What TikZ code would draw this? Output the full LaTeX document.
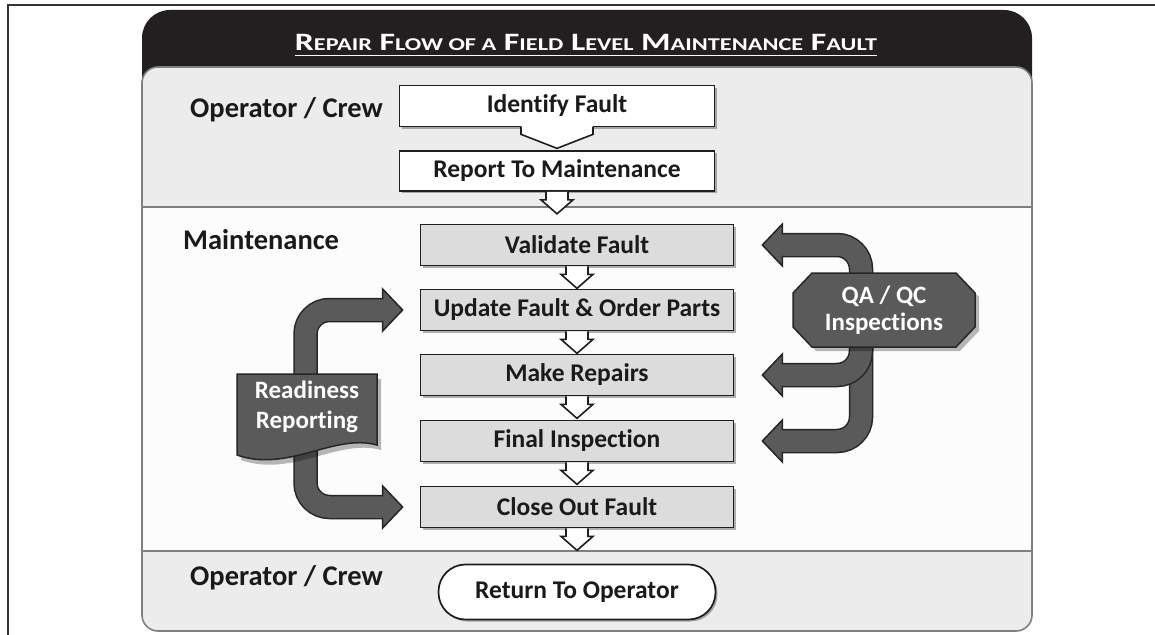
\documentclass[tikz,border=0pt]{standalone}
\usepackage{fontspec}
\setmainfont{Carlito}[Ligatures=NoCommon]
\usetikzlibrary{calc,shadows}
\definecolor{hdr}{HTML}{231F20}
\definecolor{secg}{HTML}{ECECEC}
\definecolor{secw}{HTML}{FCFCFC}
\definecolor{pan}{HTML}{7F7F7F}
\definecolor{boxg}{HTML}{DCDCDC}
\definecolor{boxline}{HTML}{1E1E1E}
\definecolor{dk}{HTML}{5A5A5A}
\definecolor{dkline}{HTML}{262626}
\definecolor{lbl}{HTML}{1A1A1A}
\newcommand\SCx[1]{{\fontsize{18}{22}\selectfont #1}}
\newcommand\chev[2]{%
  \filldraw[chevline, fill=white] let \p1=(#1.south), \p2=(#2.north) in
  (\x1-11pt,\y1) -- (\x1-11pt,\y1-8pt) -- (\x1-16pt,\y1-8pt) -- (\x1,\y1-22pt)
  -- (\x1+16pt,\y1-8pt) -- (\x1+11pt,\y1-8pt) -- (\x1+11pt,\y1);}
\newcommand\headR[1]{%
  \filldraw[fill=dk, draw=dkline, line width=1.5pt, line join=miter] let \p1=(#1) in
  (\x1-20pt,\y1+10.6pt) -- (\x1-20pt,\y1+21pt) -- (\x1,\y1) -- (\x1-20pt,\y1-21pt) -- (\x1-20pt,\y1-10.6pt);}
\newcommand\headL[1]{%
  \filldraw[fill=dk, draw=dkline, line width=1.5pt, line join=miter] let \p1=(#1) in
  (\x1+20pt,\y1+10.6pt) -- (\x1+20pt,\y1+21pt) -- (\x1,\y1) -- (\x1+20pt,\y1-21pt) -- (\x1+20pt,\y1-10.6pt);}
\tikzset{
  flowbox/.style={draw=boxline, line width=1.7pt, minimum width=315pt, minimum height=41pt,
    inner sep=0pt, text=lbl, font=\bfseries\fontsize{25.5}{30}\selectfont,
    drop shadow={shadow xshift=2pt, shadow yshift=-2pt, opacity=0.3, fill=black}},
  whitebox/.style={flowbox, fill=white},
  greybox/.style={flowbox, fill=boxg, minimum width=313pt},
  retbox/.style={flowbox, fill=white, minimum width=277pt, minimum height=55pt, rounded corners=27pt},
  lanelbl/.style={font=\bfseries\fontsize{28.5}{34}\selectfont, inner sep=0pt, text=lbl, anchor=base west},
  darklbl/.style={text=white, align=center, inner sep=0pt},
  chevline/.style={draw=boxline, line width=1.6pt, line join=miter},
  bandout/.style={line width=24.5pt, draw=dkline, rounded corners=24pt},
  bandin/.style={line width=21.5pt, draw=dk, rounded corners=24pt},
  darkshape/.style={fill=dk, draw=dkline, line width=1.5pt, line join=miter},
  shade/.style={fill=black, opacity=0.28},
}
\begin{document}
\begin{tikzpicture}[x=1pt,y=-1pt]
\useasboundingbox (0,0) rectangle (1155,634);
\fill[white] (0,0) rectangle (1155,634);
% outer frame
\draw[line width=2pt, draw=black!80] (1160,5) -- (8,5) -- (8,640);
% panel
\fill[hdr, rounded corners=28pt] (142,10) rectangle (1032,110);
\fill[secw, rounded corners=16pt] (142,67) rectangle (1032,631);
\fill[secg, rounded corners=16pt] (142,67) rectangle (1032,120);
\fill[secg] (142,100) rectangle (1032,207);
\fill[secg, rounded corners=16pt] (142,580) rectangle (1032,631);
\fill[secg] (142,551) rectangle (1032,600);
\draw[pan, line width=1.6pt, rounded corners=16pt] (142,67) rectangle (1032,631);
\draw[pan, line width=1.6pt] (142,207) -- (1032,207);
\draw[pan, line width=1.6pt] (142,551) -- (1032,551);
% title
\node[anchor=base, text=white, inner sep=0pt, font=\bfseries\fontsize{25}{30}\selectfont] (title) at (586,51)
  {\resizebox{582pt}{\height}{R\SCx{EPAIR} F\SCx{LOW OF A} F\SCx{IELD} L\SCx{EVEL} M\SCx{AINTENANCE} F\SCx{AULT}}};
\draw[white, line width=1.4pt] ($(title.base west)+(0,4.5)$) -- ($(title.base east)+(0,4.5)$);
% lane labels
\node[lanelbl] (lane1) at (190,117) {Operator / Crew};
\node[lanelbl] (lane2) at (183,249) {Maintenance};
\node[lanelbl] (lane3) at (190,585) {Operator / Crew};
% flow boxes
\node[whitebox] (idf) at (557,106) {Identify Fault};
\node[whitebox, minimum height=40pt] (rep) at (557,171) {Report To Maintenance};
\node[greybox] (val) at (577,245) {Validate Fault};
\node[greybox] (upd) at (577,310) {Update Fault \& Order Parts};
\node[greybox] (mak) at (577,375) {Make Repairs};
\node[greybox] (fin) at (577,441) {Final Inspection};
\node[greybox] (clo) at (577,507) {Close Out Fault};
\node[retbox] (ret) at (577,592) {Return To Operator};
% identify -> report (tab arrow)
\fill[white] let \p1=(idf.south) in
  (\x1-36pt,\y1+3pt) -- (\x1-36pt,\y1-7pt) -- (\x1,\y1-21pt) -- (\x1+36pt,\y1-7pt) -- (\x1+36pt,\y1+3pt) -- cycle;
\draw[chevline] let \p1=(idf.south) in
  (\x1-36pt,\y1+0.8pt) -- (\x1-36pt,\y1-7pt) -- (\x1,\y1-21pt) -- (\x1+36pt,\y1-7pt) -- (\x1+36pt,\y1+0.8pt);
% chevrons
\chev{rep}{val}
\chev{val}{upd}
\chev{upd}{mak}
\chev{mak}{fin}
\chev{fin}{clo}
\chev{clo}{ret}
% left bracket (Readiness Reporting)
\coordinate (lb) at (305.5,410);
\coordinate (tu) at ($(upd.west)+(-17,0)$);
\coordinate (tc) at ($(clo.west)+(-17,0)$);
\draw[bandout] ($(tu)+(-19,0)$) -- (lb |- tu) -- (lb |- tc) -- ($(tc)+(-19,0)$);
\draw[bandin] ($(tu)+(-19,0)$) -- (lb |- tu) -- (lb |- tc) -- ($(tc)+(-19,0)$);
\headR{tu}
\headR{tc}
\fill[shade] (241,379) -- (381,379) -- (381,450) .. controls (338,438) and (292,478) .. (241,460) -- cycle;
\filldraw[darkshape] (237,374) -- (377,374) -- (377,445) .. controls (334,433) and (288,473) .. (237,455) -- cycle;
\node[darklbl, font=\bfseries\fontsize{25}{30}\selectfont] (rr) at (307,407) {Readiness\\Reporting};
% right bracket (QA / QC)
\coordinate (rb) at (861,310);
\coordinate (tv) at ($(val.east)+(28,0)$);
\coordinate (tm) at ($(mak.east)+(28,0)$);
\coordinate (tf) at ($(fin.east)+(28,0)$);
\draw[bandout] ($(tv)+(19,0)$) -- (rb |- tv) -- (rb |- tf) -- ($(tf)+(19,0)$);
\draw[bandin] ($(tv)+(19,0)$) -- (rb |- tv) -- (rb |- tf) -- ($(tf)+(19,0)$);
\headL{tv}
\headL{tf}
\draw[bandout] (rb) -- (rb |- tm) -- ($(tm)+(19,0)$);
\draw[bandin] (rb) -- (rb |- tm) -- ($(tm)+(19,0)$);
\headL{tm}
\fill[shade] (816,277) -- (960,277) -- (979,297) -- (979,331) -- (960,351) -- (816,351) -- (797,331) -- (797,297) -- cycle;
\filldraw[darkshape] (812,273) -- (956,273) -- (975,293) -- (975,327) -- (956,347) -- (812,347) -- (793,327) -- (793,293) -- cycle;
\node[darklbl, font=\bfseries\fontsize{25}{27}\selectfont] (qa) at (884,310) {QA / QC\\Inspections};
\end{tikzpicture}
\end{document}
